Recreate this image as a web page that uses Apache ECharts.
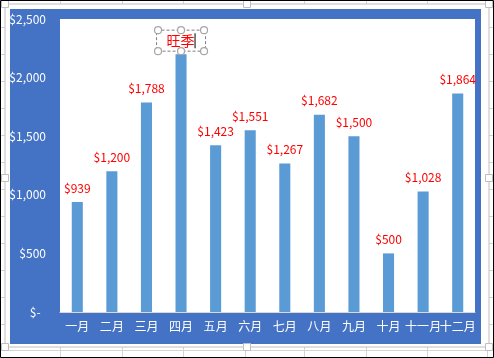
<!DOCTYPE html>
<html><head><meta charset="utf-8">
<script src="https://cdn.jsdelivr.net/npm/echarts@6/dist/echarts.min.js"></script>
<style>html,body{margin:0;padding:0;background:#fff}#c{width:494px;height:358px}</style>
</head><body><div id="c"></div>
<script>
const categories = ['一月','二月','三月','四月','五月','六月','七月','八月','九月','十月','十一月','十二月'];
const sales = [939, 1200, 1788, 2200, 1423, 1551, 1267, 1682, 1500, 500, 1028, 1864];
const calloutIndex = 3;
const calloutText = '旺季';
const yTicks = {min: 0, max: 2500, interval: 500};

(function(){
const chart = echarts.init(document.getElementById('c'), null, {renderer: 'canvas'});
const FONT = '"Noto Sans CJK SC", "Microsoft YaHei", sans-serif';

function money(v){ return v === 0 ? '$-  ' : '$' + v.toLocaleString('en-US'); }

const bg = [];
[60,122,183,245,304,366,427,487].forEach(x => bg.push({type:'line', z:-30, shape:{x1:x+0.5,y1:0,x2:x+0.5,y2:358}, style:{stroke:'#D4D4D4', lineWidth:1}}));
[27,54,81,108,135,162,189,216,243,270,297,324,350].forEach(y => bg.push({type:'line', z:-30, shape:{x1:0,y1:y+0.5,x2:494,y2:y+0.5}, style:{stroke:'#D4D4D4', lineWidth:1}}));
bg.push({type:'rect', z:-25, shape:{x:5,y:4,width:484,height:343}, style:{fill:'#fff', stroke:'#BFBFBF', lineWidth:1}});
bg.push({type:'rect', z:-20, shape:{x:10,y:9,width:471,height:335}, style:{fill:'#4472C4'}});
[[5,4],[247,4],[489,4],[5,178],[489,178],[5,347],[247,347],[489,347]].forEach(p => bg.push({type:'rect', z:-19, shape:{x:p[0]-3.5,y:p[1]-3.5,width:7,height:7}, style:{fill:'#fff', stroke:'#BFBFBF', lineWidth:1}}));
bg.push({type:'rect', z:100, shape:{x:0.5,y:0.5,width:493,height:357}, style:{fill:'none', stroke:'#000', lineWidth:1}});

const data = sales.map((v,i) => {
  if (i !== calloutIndex) return v;
  return {value: v, label: {
    formatter: '{a|' + calloutText + '}{c|}',
    borderColor: '#7F7F7F', borderWidth: 1, borderType: [3,2],
    padding: [3, 10, 3, 10], distance: 3,
    rich: {a: {color:'#FF0000', fontSize: 14, fontFamily: FONT}, c: {width: 1, height: 15, backgroundColor: '#000'}}
  }};
});

chart.setOption({
  animation: false,
  backgroundColor: '#fff',
  graphic: {elements: bg},
  grid: {left: 60, right: 19, top: 19, bottom: 46, show: true, backgroundColor: '#fff', borderWidth: 0, z: 1},
  xAxis: {
    type: 'category', data: categories,
    axisLine: {lineStyle: {color: '#D9D9D9'}},
    axisTick: {show: false},
    axisLabel: {color: '#fff', fontSize: 12, fontFamily: FONT, margin: 8, interval: 0}
  },
  yAxis: {
    type: 'value', min: yTicks.min, max: yTicks.max, interval: yTicks.interval,
    axisLine: {show: false}, axisTick: {show: false},
    splitLine: {lineStyle: {color: '#D9D9D9'}},
    axisLabel: {color: '#fff', fontSize: 12, fontFamily: FONT, margin: 14, formatter: money}
  },
  series: [{
    type: 'bar', data: data, barWidth: '32%', z: 3,
    itemStyle: {color: '#5B9BD5'},
    label: {show: true, position: 'top', distance: 8, color: '#FF0000', fontSize: 12, fontFamily: FONT, formatter: p => money(p.value)}
  }]
});

const pt = chart.convertToPixel({seriesIndex: 0}, [categories[calloutIndex], sales[calloutIndex]]);
const bBottom = pt[1] - 3, bTop = bBottom - 21, bLeft = pt[0] - 23, bRight = pt[0] + 23;
const handles = [];
[[bLeft,bTop],[pt[0],bTop],[bRight,bTop],[bLeft,bBottom],[pt[0],bBottom],[bRight,bBottom]].forEach(h => handles.push({type:'circle', z:50, shape:{cx:h[0], cy:h[1], r:3.5}, style:{fill:'#fff', stroke:'#A6A6A6', lineWidth:1.2}}));
chart.setOption({graphic: {elements: bg.concat(handles)}});
})();
</script></body></html>
